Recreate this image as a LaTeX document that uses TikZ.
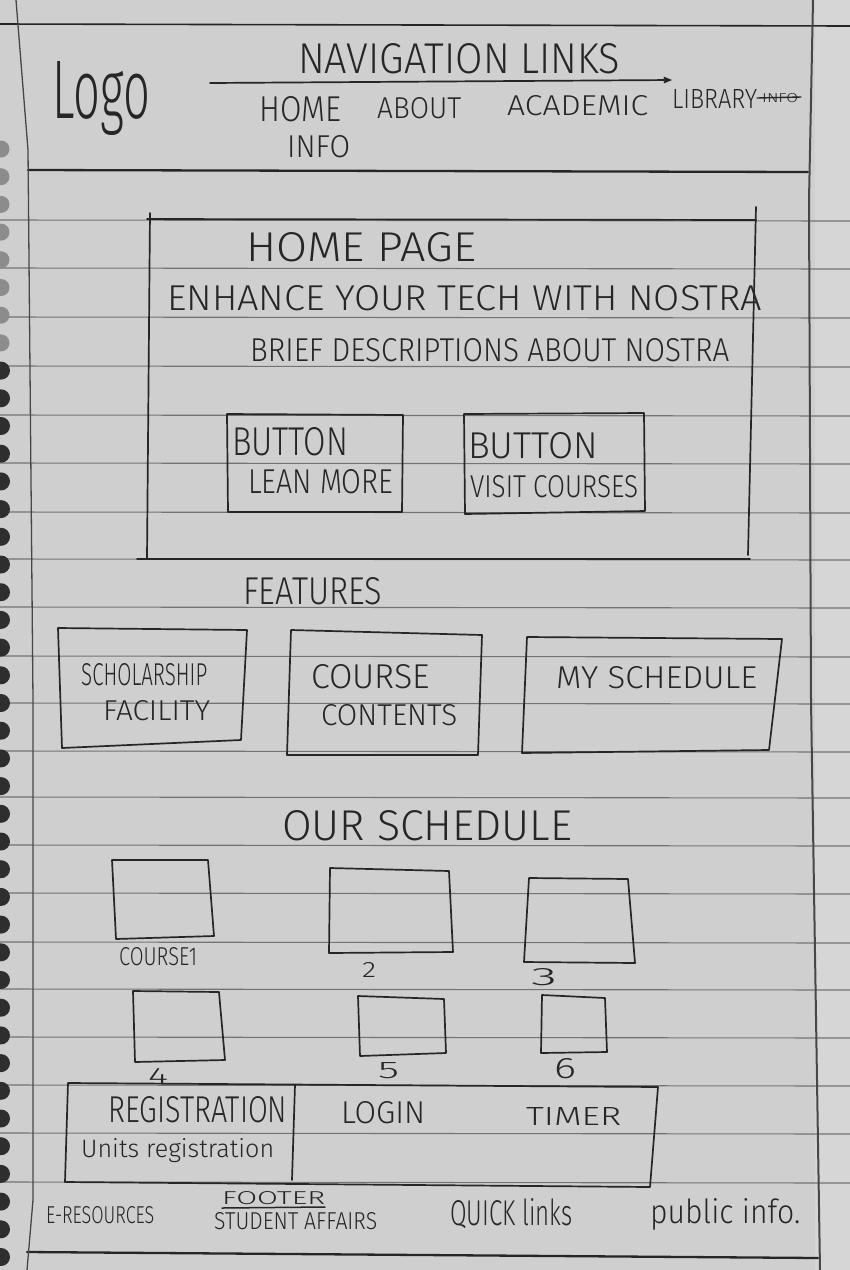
\documentclass[tikz,border=0pt]{standalone}
\usepackage{fontspec}
\setmainfont{Fira Sans}[UprightFont={* Light}]
\usetikzlibrary{arrows.meta}
\definecolor{paper}{gray}{0.81}
\definecolor{paperlight}{gray}{0.84}
\definecolor{rule}{gray}{0.45}
\definecolor{ink}{gray}{0.15}
% text squeezed or stretched to a given width and height (in pt)
\newcommand{\hw}[3]{\resizebox{#1pt}{#2pt}{#3}}

\begin{document}
\begin{tikzpicture}[x=1pt,y=-1pt,
  ruled/.style={draw=rule,line width=1.1pt},
  margin/.style={draw=ink!85,line width=1.3pt},
  sketch/.style={draw=ink,line width=1.7pt,line join=round,line cap=round},
  heavy/.style={draw=ink,line width=2.3pt,line cap=round},
  txt/.style={text=ink,inner sep=0pt,anchor=base west},
  holedark/.style={fill=black!82},
  holelight/.style={fill=black!45}]
\useasboundingbox (0,0) rectangle (850,1270);

% paper
\fill[paper] (0,0) rectangle (850,1270);
\fill[paperlight] (815,0) rectangle (850,1270);

% ruled lines
\foreach \y in {220,268,317,366,415,463,512,559,607,656,703,751,797,845,893,942,989,1037,1085,1133,1182}
  \draw[ruled] (0,\y) -- (850,\y+1);

% top and section lines
\draw[heavy, line width=1.6pt] (0,24) -- (850,26);
\draw[heavy] (28,170) -- (808,172);
\draw[heavy] (27,1252) -- (818,1258);

% margin lines
\draw[margin] (16,0) -- (28,150) -- (33,700) -- (33,1200) -- (27,1270);
\draw[margin, line width=2pt] (813,0) -- (809,200) -- (811,700) -- (820,1270);

% spiral holes
\foreach \k in {0,...,7}
  \fill[holelight] (1,149+27.7*\k) circle (8.5);
\foreach \k in {8,...,40}
  \fill[holedark] (1,149+27.7*\k) circle (9);

% ---------- header ----------
\node[txt] (logo) at (52,118) {\hw{98}{57}{Logo}};
\node[txt] (navtitle) at (298,73) {\hw{322}{30}{NAVIGATION LINKS}};
\coordinate (navL) at (210,83);
\coordinate (navR) at (672,80);
\draw[sketch,-{Straight Barb[length=6pt,width=5pt]}] (navL) -- (navR);
\node[txt] (lhome) at (259,121) {\hw{82}{25}{HOME}};
\node[txt] (labout) at (377,118) {\hw{84}{21}{ABOUT}};
\node[txt] (lacad) at (507,115) {\hw{141}{20}{ACADEMIC}};
\node[txt] (llib) at (672,108) {\hw{85}{19}{LIBRARY}};
\node[txt] (lxinfo) at (762,102) {\hw{36}{9}{INFO}};
\draw[sketch,line width=1.4pt] (757,98) -- (801,97);
\node[txt] (linfo) at (287,157) {\hw{63}{22}{INFO}};

% ---------- home page ----------
\draw[sketch] (150,213) -- (147,558);
\draw[sketch] (147,219) -- (756,220);
\draw[sketch] (756,207) -- (748,555);
\draw[sketch] (137,559) -- (750,559);
\node[txt] (hometitle) at (246,261) {\hw{230}{29}{HOME PAGE}};
\node[txt] (enhance) at (167,310) {\hw{595}{25}{ENHANCE YOUR TECH WITH NOSTRA}};
\node[txt] (brief) at (250,361) {\hw{479}{23}{BRIEF DESCRIPTIONS ABOUT NOSTRA}};

\draw[sketch] (227,414) -- (403,415) -- (402,512) -- (228,512) -- cycle;
\node[txt] (b1a) at (232,455) {\hw{116}{28}{BUTTON}};
\node[txt] (b1b) at (248,493) {\hw{145}{24}{LEAN MORE}};
\draw[sketch] (464,414) -- (644,413) -- (645,511) -- (465,514) -- cycle;
\node[txt] (b2a) at (468,458) {\hw{130}{26}{BUTTON}};
\node[txt] (b2b) at (470,497) {\hw{168}{22}{VISIT COURSES}};

% ---------- features ----------
\node[txt] (features) at (243,604) {\hw{139}{27}{FEATURES}};
\draw[sketch] (58,628) -- (247,630) -- (241,740) -- (62,748) -- cycle;
\node[txt] (f1a) at (81,685) {\hw{126}{22}{SCHOLARSHIP}};
\node[txt] (f1b) at (103,720) {\hw{107}{20}{FACILITY}};
\draw[sketch] (291,630) -- (482,635) -- (478,755) -- (287,755) -- cycle;
\node[txt] (f2a) at (311,688) {\hw{119}{24}{COURSE}};
\node[txt] (f2b) at (321,725) {\hw{136}{21}{CONTENTS}};
\draw[sketch] (527,637) -- (782,639) -- (769,750) -- (522,753) -- cycle;
\node[txt] (f3a) at (556,688) {\hw{201}{22}{MY SCHEDULE}};

% ---------- our schedule ----------
\node[txt] (sched) at (282,840) {\hw{290}{30}{OUR SCHEDULE}};
\draw[sketch] (112,860) -- (208,860) -- (214,936) -- (116,939) -- cycle;
\node[txt] (c1) at (119,965) {\hw{78}{18}{COURSE1}};
\draw[sketch] (330,868) -- (449,871) -- (453,952) -- (329,953) -- cycle;
\node[txt] (c2) at (362,977) {\hw{14}{15}{2}};
\draw[sketch] (529,878) -- (628,879) -- (635,963) -- (524,962) -- cycle;
\node[txt] (c3) at (531,985) {\hw{26}{17}{3}};
\draw[sketch] (133,991) -- (219,992) -- (225,1060) -- (135,1062) -- cycle;
\node[txt] (c4) at (148,1084) {\hw{20}{16}{4}};
\draw[sketch] (358,996) -- (444,999) -- (446,1053) -- (360,1056) -- cycle;
\node[txt] (c5) at (378,1078) {\hw{21}{16}{5}};
\draw[sketch] (542,995) -- (605,998) -- (607,1052) -- (541,1053) -- cycle;
\node[txt] (c6) at (554,1078) {\hw{22}{20}{6}};

% ---------- registration bar ----------
\draw[sketch] (68,1083) -- (658,1087) -- (650,1187) -- (65,1182) -- cycle;
\draw[sketch] (295,1085) -- (292,1180);
\node[txt] (reg) at (108,1122) {\hw{179}{26}{REGISTRATION}};
\node[txt] (units) at (81,1157) {\hw{193}{19}{Units registration}};
\node[txt] (login) at (341,1123) {\hw{84}{22}{LOGIN}};
\node[txt] (timer) at (526,1125) {\hw{95}{18}{TIMER}};

% ---------- footer ----------
\node[txt] (eres) at (46,1223) {\hw{108}{17}{E-RESOURCES}};
\node[txt] (footer) at (222,1204) {\hw{103}{13}{FOOTER}};
\draw[sketch,line width=1.5pt] (222,1208) -- (325,1207);
\node[txt] (student) at (214,1229) {\hw{163}{17}{STUDENT AFFAIRS}};
\node[txt] (quick) at (450,1225) {\hw{122}{27}{QUICK links}};
\node[txt] (public) at (650,1223) {\hw{150}{25}{public info.}};
\end{tikzpicture}
\end{document}
